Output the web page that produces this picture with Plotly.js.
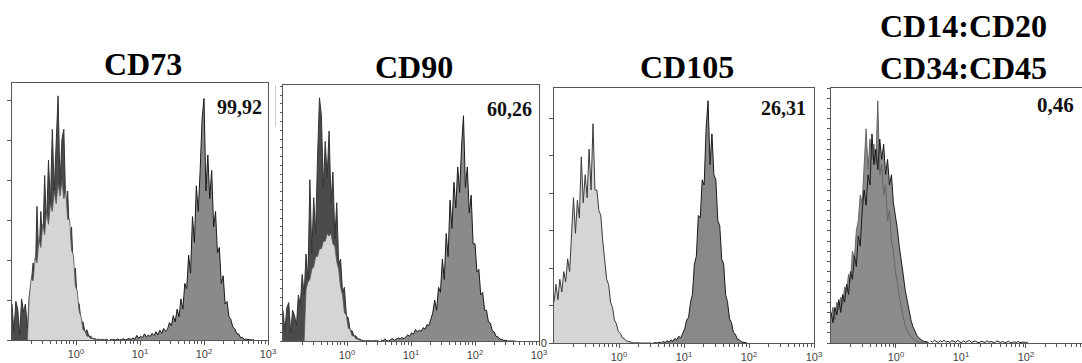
<!DOCTYPE html>
<html><head><meta charset="utf-8">
<script src="https://cdn.plot.ly/plotly-3.0.1.min.js"></script>
<style>html,body{margin:0;padding:0;background:#fff;}#chart{width:1082px;height:363px;}</style>
</head><body><div id="chart"></div>
<script>
// log10 fluorescence bin centres
const binsLeft = [-1.00,-0.97,-0.94,-0.91,-0.88,-0.85,-0.82,-0.79,-0.76,-0.73,-0.70,-0.67,-0.64,-0.61,-0.58,-0.55,-0.52,-0.49,-0.46,-0.43,-0.40,-0.37,-0.34,-0.31,-0.28,-0.25,-0.22,-0.19,-0.16,-0.13,-0.10,-0.07,-0.04,-0.01,0.02,0.05,0.08,0.11,0.14,0.17,0.20,0.23,0.26,0.29,0.32,0.35,0.38,0.41,0.44,0.47,0.50];
const binsRight = [0.53,0.56,0.59,0.62,0.65,0.68,0.71,0.74,0.77,0.80,0.83,0.86,0.89,0.92,0.95,0.98,1.01,1.04,1.07,1.10,1.13,1.16,1.19,1.22,1.25,1.28,1.31,1.34,1.37,1.40,1.43,1.46,1.49,1.52,1.55,1.58,1.61,1.64,1.67,1.70,1.73,1.76,1.79,1.82,1.85,1.88,1.91,1.94,1.97,2.00,2.03,2.06,2.09,2.12,2.15,2.18,2.21,2.24,2.27,2.30,2.33,2.36,2.39,2.42,2.45,2.48,2.51,2.54,2.57,2.60,2.63,2.66,2.69,2.72,2.75,2.78];

// CD73
const cd73Isotype = [14,3,15,12,2,16,11,14,4,17,22,30,20,52,30,50,36,64,44,70,52,82,58,80,95,60,78,82,52,58,38,44,26,28,15,14,7,7,3,4,1.5,1.5,0.6,0.6,0.2,0.3,0,0.3,0,0.2,0];
const cd73Control = [0,0,0,0,0,0,0,0,0,17,24,23,32,30,39,36,45,41,50,45,53,50,58,53,61,56,62,55,58,47,47,35,33,21,19,11,9,4,3.5,1.5,1.4,0.5,0.6,0.2,0.3,0,0.2,0,0,0,0];
const cd73Stained = [0.3,0,0.2,0,0.4,0,0.2,0.5,0,0.3,0.6,0.2,0.8,0.3,1.8,0.6,1.5,0.9,2.4,1.2,1.9,1.4,2.6,1.7,3.2,2.0,3.8,2.6,4.5,3.4,4.2,6.8,5.5,9.5,7,12,9,16,12,22,20,33,26,48,38,60,50,66,86,94,58,72,55,66,44,50,34,36,22,25,14,15,9,8,5,4.5,2.5,2.4,1.0,1.0,0.3,0.3,0.1,0.1,0,0.1];

// CD90
const cd90Isotype = [12,4,13,15,3,12,10,6,18,14,26,18,34,24,63,34,56,42,72,95,88,60,78,64,82,54,66,40,54,30,32,19,21,10,9,4,4,2,2,0.8,0.8,0.3,0.2,0,0.2,0,0,0.1,0,0,0];
const cd90Control = [0,0,0,0,0,0,0,0,0,0,0,0,20,23,24,28,29,33,33,36,36,39,39,42,41,42,38,37,31,28,21,18,11,10,5,4.5,2,2,0.8,0.7,0.3,0.2,0,0.2,0,0,0,0,0,0,0];
const cd90Stained = [0.4,0,0.8,0.2,0,0.5,1.0,0.3,0.6,1.2,0.8,1.4,0.9,1.6,2.4,1.8,3.2,2.6,4.5,3.6,4.2,3.8,5.2,4.6,6.4,6.0,9,11,16,12,21,19,32,24,42,33,55,44,62,52,68,58,76,88,60,68,50,57,38,38,27,28,18,19,12,12,7.5,7,4,3.5,1.8,1.6,0.7,0.6,0.2,0.3,0,0.1,0,0,0];

// CD105
const cd105Control = [16,23,17,25,20,28,24,33,28,42,57,43,56,49,73,55,66,57,76,60,86,60,60,52,50,40,33,25,23,16,14,9,7.5,4.5,3.8,2,1.8,0.8,0.7,0.4,0.2,0,0.1,0,0,0,0,0,0,0,0];
const cd105Stained = [0,0.2,0,0.3,0,0.6,0.2,0.9,0.4,1.2,0.7,1.8,1.3,2.6,2.0,3.8,5.5,9,10,16,19,31,34,50,49,64,62,84,95,70,82,66,64,48,46,33,31,19,16,9.5,8,4.2,3.4,1.6,1.3,0.5,0.4,0.1,0];

// CD14:CD20 / CD34:CD45
const lineageControl = [10,14,9,16,13,18,15,22,20,27,24,36,33,44,48,58,55,70,84,68,80,72,78,70,95,66,70,58,62,48,52,40,36,28,24,18,14,10,7,5,3.5,2.4,1.6,1,0.6,0.4,0.2,0,0.1,0,0];
const lineageStained = [12,8,14,11,17,12,19,16,23,19,28,25,34,30,42,38,52,60,54,66,62,82,70,76,68,80,72,78,66,72,62,66,55,50,45,38,33,27,21,17,12,9,6.5,4.5,3,2,1.4,0.9,0.6,0.4,0.3];
const lineageTail = [0.8,0.3,1.0,0.5,0.2,0.9,0.4,1.1,0.3,0.7,0.2,0.9,0.5,0.3,1.0,0.4,0.2,0.8,0.3,0.6,1.0,0.2,0.5,0.8,0.3,0.1,0.7,0.4,0.2,0.9,0.3,0.6,0.2,0.1,0.8,0.4,0.2,0.6,0.1,0.3,0.7,0.2,0.1,0.5,0.2,0.6,0.1,0.3,0.4,0,0.5];

const panelTitles = ['CD73','CD90','CD105','CD14:CD20<br>CD34:CD45'];
const panelPercents = ['99,92','60,26','26,31','0,46'];
const decadeTicks = [0,1,2,3];
const decadeLabels = ['10<sup>0</sup>','10<sup>1</sup>','10<sup>2</sup>','10<sup>3</sup>'];
const countZeroLabel = ['0'];

// ---- layout geometry (pixels) ----
const W = 1082, H = 363;
const fx = p => p / W;
const fy = p => 1 - p / H;
const panels = [
  {x:[12,268],  y:[83,340],  xr:[-1,3],    yd:15.56, tl:4, mirrorY:true,  zeroLabel:false},
  {x:[283,539], y:[85,341],  xr:[-1,3],    yd:3.43,  tl:2, mirrorY:true,  zeroLabel:false},
  {x:[554,814], y:[88,343],  xr:[-1,3],    yd:14.7,  tl:4, mirrorY:true,  zeroLabel:true},
  {x:[831,1082],y:[88,343],  xr:[-1,2.862],yd:4.0,   tl:3, mirrorY:false, zeroLabel:false}
];

const minorVals = [];
[-1,0,1,2].forEach(d => { for (let m = 2; m <= 9; m++) minorVals.push(d + Math.log10(m)); });

function area(xs, ys, n, fillColor, lineColor, lw) {
  return {x: xs, y: ys, xaxis: 'x' + (n === 1 ? '' : n), yaxis: 'y' + (n === 1 ? '' : n),
    type: 'scatter', mode: 'lines', fill: fillColor ? 'tozeroy' : 'none',
    fillcolor: fillColor || undefined, line: {color: lineColor, width: lw, shape: 'linear'},
    hoverinfo: 'skip'};
}

const traces = [
  area(binsLeft, cd73Isotype, 1, '#4b4b4b', '#333', 1),
  area(binsLeft, cd73Control, 1, '#d5d5d5', '#555', 0.8),
  area(binsRight, cd73Stained, 1, '#8a8a8a', '#1a1a1a', 1),

  area(binsLeft, cd90Isotype, 2, '#4b4b4b', '#333', 1),
  area(binsLeft, cd90Control, 2, '#d5d5d5', '#555', 0.8),
  area(binsRight, cd90Stained, 2, '#8a8a8a', '#1a1a1a', 1),

  area(binsLeft, cd105Control, 3, '#d5d5d5', '#3a3a3a', 1),
  area(binsRight, cd105Stained, 3, '#888888', '#1a1a1a', 1),

  area(binsLeft, lineageStained, 4, '#8c8c8c', 'rgba(0,0,0,0)', 0),
  area(binsLeft, lineageControl, 4, '#8c8c8c', '#666', 1),
  area(binsLeft, lineageStained, 4, null, '#1a1a1a', 1),
  area(binsRight, lineageTail, 4, null, '#1a1a1a', 1)
];

const layout = {
  width: W, height: H, margin: {l:0, r:0, t:0, b:0},
  paper_bgcolor: '#fff', plot_bgcolor: '#fff', showlegend: false,
  font: {family: 'Liberation Sans, Arial, sans-serif', color: '#333', size: 10},
  annotations: [], shapes: []
};

panels.forEach((p, i) => {
  const n = i + 1, sfx = n === 1 ? '' : n;
  layout['xaxis' + sfx] = {
    domain: [fx(p.x[0]), fx(p.x[1])], range: p.xr, anchor: 'y' + sfx,
    showgrid: false, zeroline: false, showline: true, linecolor: '#555', linewidth: 1, mirror: true,
    tickmode: 'array', tickvals: decadeTicks, ticktext: decadeLabels,
    ticks: 'outside', ticklen: 4, tickcolor: '#555', tickwidth: 1,
    tickfont: {family: 'Liberation Sans, Arial, sans-serif', size: 11, color: '#444'},
    minor: {tickmode: 'array', tickvals: minorVals, ticks: 'outside', ticklen: 2.5, tickcolor: '#555', showgrid: false},
    fixedrange: true
  };
  const ya = {
    domain: [fy(p.y[1]), fy(p.y[0])], range: [0, 100], anchor: 'x' + sfx,
    showgrid: false, zeroline: false, showline: true, linecolor: '#555', linewidth: 1, mirror: p.mirrorY,
    ticks: 'outside', ticklen: p.tl, tickcolor: '#555', tickwidth: 1,
    fixedrange: true
  };
  if (p.zeroLabel) {
    Object.assign(ya, {tickmode: 'array', tickvals: [0], ticktext: countZeroLabel, showticklabels: true,
      tickfont: {family: 'Liberation Sans, Arial, sans-serif', size: 11, color: '#333'},
      minor: {tickmode: 'linear', tick0: 0, dtick: p.yd, ticks: 'outside', ticklen: p.tl, tickcolor: '#555', showgrid: false}});
  } else {
    Object.assign(ya, {tickmode: 'linear', tick0: 0, dtick: p.yd, showticklabels: false});
  }
  layout['yaxis' + sfx] = ya;
});

const titlePos = [[143,64],[414,67.5],[687,67.5],[963,47]];
panelTitles.forEach((t, i) => {
  layout.annotations.push({text: '<b>' + t + '</b>', xref: 'paper', yref: 'paper', x: fx(titlePos[i][0]), y: fy(titlePos[i][1]),
    xanchor: 'center', yanchor: 'middle', showarrow: false,
    font: {family: 'Liberation Serif, Times New Roman, serif', size: 32, color: '#000'}});
});
const pctPos = [[264,106.5,20],[534,109,20],[808,108,20],[1076,105,21]];
panelPercents.forEach((t, i) => {
  layout.annotations.push({text: '<b>' + t + '</b>', xref: 'paper', yref: 'paper', x: fx(pctPos[i][0]), y: fy(pctPos[i][1]),
    xanchor: 'right', yanchor: 'middle', showarrow: false,
    font: {family: 'Liberation Serif, Times New Roman, serif', size: pctPos[i][2], color: '#111'}});
});
layout.shapes.push({type: 'line', xref: 'paper', yref: 'paper', x0: fx(275.5), x1: fx(275.5), y0: fy(85), y1: fy(127),
  line: {color: '#cfcfcf', width: 1}});

Plotly.newPlot('chart', traces, layout, {staticPlot: true, displayModeBar: false});
</script></body></html>
